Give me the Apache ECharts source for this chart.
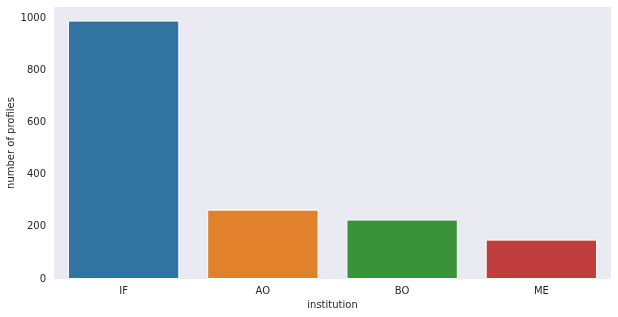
<!DOCTYPE html>
<html><head><meta charset="utf-8">
<script src="https://cdn.jsdelivr.net/npm/echarts@6/dist/echarts.min.js"></script>
<style>html,body{margin:0;padding:0;background:#fff}#c{width:618px;height:317px}</style>
</head><body><div id="c"></div>
<script>
const categories = ["IF", "AO", "BO", "ME"];
const counts = [991, 266, 228, 151];
const barColors = ["#3274A1", "#E1812C", "#3A923A", "#C03D3E"];
const yTicks = [0, 200, 400, 600, 800, 1000];

const chart = echarts.init(document.getElementById('c'), null, {renderer: 'canvas'});
const font = 'DejaVu Sans';
chart.setOption({
  animation: false,
  backgroundColor: '#fff',
  grid: {left: 54, right: 7, top: 7, bottom: 38, show: true, backgroundColor: '#EAEAF2', borderWidth: 0,
    containLabel: false, outerBoundsMode: 'none'},
  xAxis: {
    type: 'category', data: categories,
    name: 'institution', nameLocation: 'middle', nameGap: 21, nameMoveOverlap: false,
    nameTextStyle: {fontFamily: font, fontSize: 10, color: '#262626'},
    axisLine: {show: false}, axisTick: {show: false},
    axisLabel: {fontFamily: font, fontSize: 10, color: '#262626', margin: 7}
  },
  yAxis: {
    type: 'value', min: 0, max: 1043, interval: 200,
    name: 'number of profiles', nameLocation: 'middle', nameGap: 38, nameMoveOverlap: false,
    nameTextStyle: {fontFamily: font, fontSize: 10, color: '#262626'},
    axisLine: {show: false}, axisTick: {show: false}, splitLine: {show: false},
    axisLabel: {fontFamily: font, fontSize: 10, color: '#262626', margin: 8, showMaxLabel: false,
      formatter: v => yTicks.includes(v) ? String(v) : ''}
  },
  series: [{
    type: 'bar', barWidth: '80%',
    data: counts.map((v, i) => ({value: v, itemStyle: {color: barColors[i], borderColor: '#fff', borderWidth: 1}}))
  }]
});
</script></body></html>
